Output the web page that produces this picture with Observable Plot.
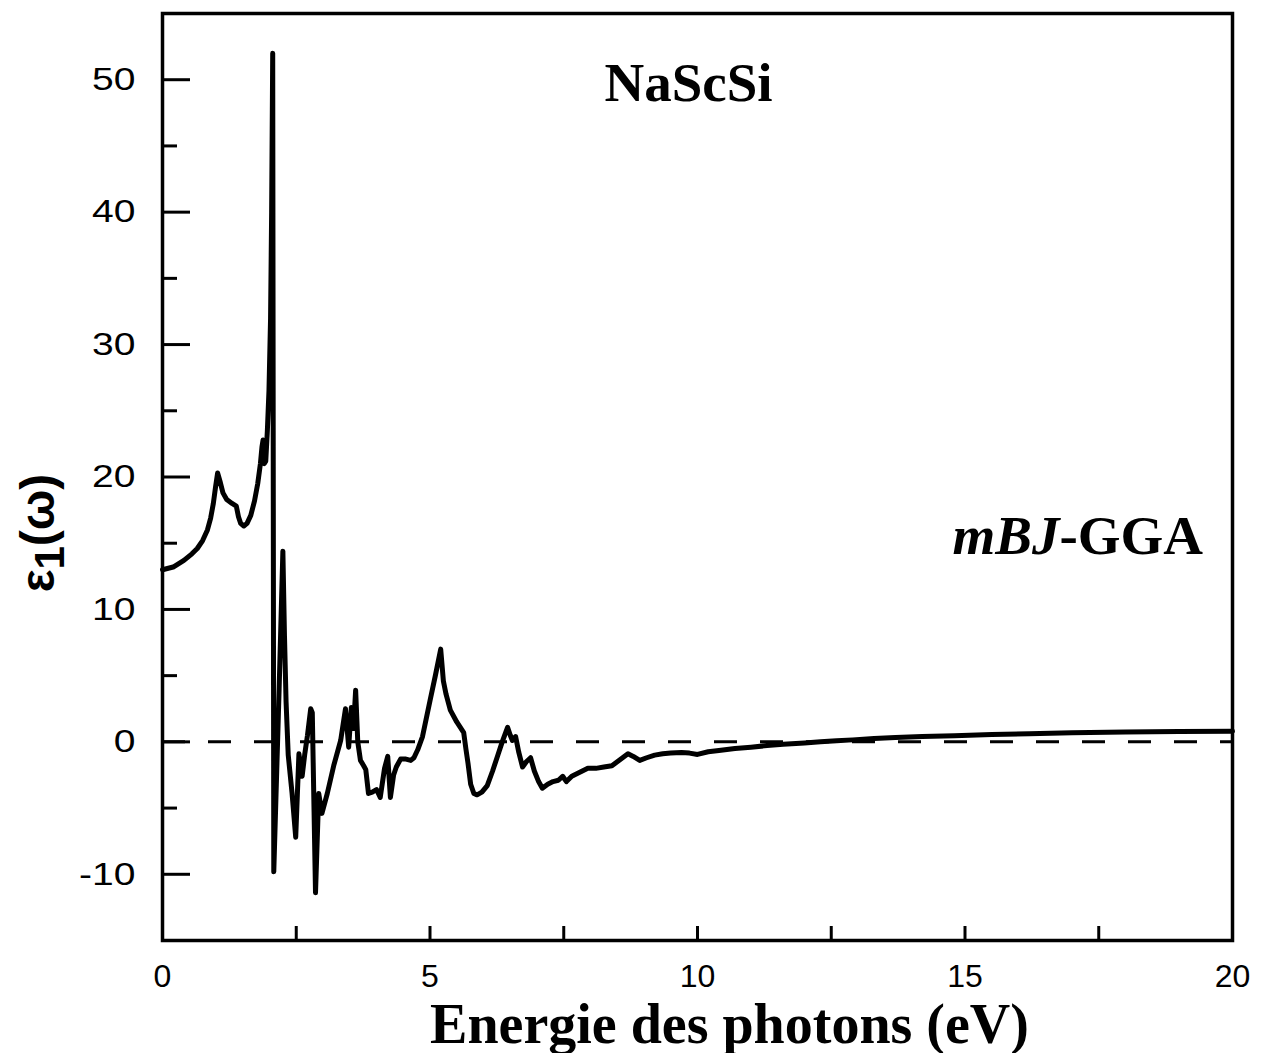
<!DOCTYPE html>
<html>
<head>
<meta charset="utf-8">
<script src="https://cdn.jsdelivr.net/npm/d3@7"></script>
<script src="https://cdn.jsdelivr.net/npm/@observablehq/plot@0.6"></script>
<style>
  html, body { margin: 0; padding: 0; background: #fff; }
  #chart svg { display: block; font-family: "Liberation Sans", Arial, sans-serif; }
</style>
</head>
<body>
<div id="chart"></div>
<script>
// Real part of the dielectric function of NaScSi (mBJ-GGA), epsilon_1 vs photon energy
const energy = [
  0.00, 0.20, 0.40, 0.55, 0.65, 0.75, 0.84, 0.90, 0.95, 0.99,
  1.03, 1.08, 1.13, 1.20, 1.30, 1.38, 1.42, 1.46, 1.52, 1.58,
  1.65, 1.72, 1.78, 1.83, 1.86, 1.88, 1.90, 1.93, 1.96, 1.99,
  2.02, 2.04, 2.06, 2.08, 2.18, 2.25, 2.28, 2.31, 2.35, 2.42,
  2.49, 2.55, 2.61, 2.66, 2.71, 2.77, 2.80, 2.86, 2.92, 2.98,
  3.08, 3.20, 3.33, 3.42, 3.48, 3.53, 3.57, 3.61, 3.65, 3.70,
  3.76, 3.80, 3.85, 3.92, 4.00, 4.07, 4.15, 4.21, 4.26, 4.32,
  4.37, 4.45, 4.55, 4.64, 4.70, 4.77, 4.86, 5.00, 5.10, 5.20,
  5.25, 5.30, 5.38, 5.50, 5.63, 5.67, 5.71, 5.76, 5.82, 5.88,
  5.97, 6.07, 6.17, 6.26, 6.35, 6.45, 6.50, 6.54, 6.60, 6.66,
  6.73, 6.80, 6.88, 6.95, 7.03, 7.10, 7.20, 7.30, 7.40, 7.48,
  7.55, 7.65, 7.80, 7.95, 8.10, 8.25, 8.40, 8.50, 8.60, 8.70,
  8.80, 8.92, 9.05, 9.20, 9.35, 9.50, 9.70, 9.85, 10.0, 10.2,
  10.4, 10.7, 11.0, 11.3, 11.6, 12.0, 12.3, 12.6, 12.9, 13.3,
  13.7, 14.2, 14.8, 15.5, 16.2, 17.0, 18.0, 19.0, 20.0
];
const eps1 = [
  13.0, 13.2, 13.7, 14.2, 14.6, 15.2, 16.0, 16.9, 18.0, 19.2,
  20.3, 19.6, 18.8, 18.3, 18.0, 17.8, 17.0, 16.5, 16.3, 16.5,
  17.1, 18.2, 19.5, 21.0, 22.3, 22.8, 21.0, 21.2, 23.5, 26.5,
  32.0, 40.0, 52.0, -9.8, 4.0, 14.4, 8.0, 3.0, -1.0, -3.8,
  -7.2, -0.9, -2.6, -0.9, 0.5, 2.5, 2.2, -11.4, -3.9, -5.4,
  -3.9, -1.8, 0.1, 2.5, -0.4, 2.6, 1.0, 3.9, 0.0, -1.4,
  -1.8, -2.1, -3.9, -3.8, -3.6, -4.2, -2.0, -1.1, -4.2, -2.5,
  -1.9, -1.3, -1.3, -1.4, -1.2, -0.6, 0.4, 3.1, 5.0, 7.0,
  4.6, 3.6, 2.4, 1.5, 0.7, -0.5, -1.6, -3.2, -3.9, -4.0,
  -3.8, -3.3, -2.2, -1.1, 0.0, 1.1, 0.5, 0.1, 0.4, -0.8,
  -1.9, -1.5, -1.2, -2.2, -3.0, -3.5, -3.2, -3.0, -2.9, -2.6,
  -3.0, -2.6, -2.3, -2.0, -2.0, -1.9, -1.8, -1.5, -1.2, -0.9,
  -1.1, -1.4, -1.2, -1.0, -0.9, -0.85, -0.8, -0.85, -0.95, -0.75,
  -0.65, -0.5, -0.4, -0.28, -0.18, -0.08, 0.0, 0.08, 0.15, 0.25,
  0.32, 0.4, 0.47, 0.55, 0.62, 0.68, 0.74, 0.78, 0.80
];

const xLabelTicks = [0, 5, 10, 15, 20];
const xMinorTicks = [2.5, 7.5, 12.5, 17.5];
const yLabelTicks = [-10, 0, 10, 20, 30, 40, 50];
const yMinorTicks = [-5, 5, 15, 25, 35, 45];

const compound = "NaScSi";
const xTitle = "Energie des photons (eV)";

const series = energy.map((e, i) => ({e, v: eps1[i]}));

const W = 1262, H = 1053;
const serif = "'Liberation Serif', 'Times New Roman', serif";
const plain = d => String(d);

const chart = Plot.plot({
  width: W,
  height: H,
  marginLeft: 162,
  marginRight: 30,
  marginTop: 13,
  marginBottom: 113,
  x: {domain: [0, 20]},
  y: {domain: [-15, 55]},
  marks: [
    Plot.ruleY([0], {stroke: "#000", strokeWidth: 3, strokeDasharray: "23,23"}),
    Plot.line(series, {x: "e", y: "v", stroke: "#000", strokeWidth: 5, strokeLinejoin: "round", strokeLinecap: "round"}),
    Plot.axisY(yLabelTicks, {tickSize: -28, tickPadding: 55, fontSize: 32, strokeWidth: 3, label: null, fill: "#000", tickFormat: plain}),
    Plot.axisY(yMinorTicks, {tickSize: -15, text: null, strokeWidth: 3, label: null}),
    Plot.axisX(xLabelTicks, {tickSize: -14, tickPadding: 38, fontSize: 32, strokeWidth: 3, label: null, fill: "#000", tickFormat: plain}),
    Plot.axisX(xMinorTicks, {tickSize: -14, text: null, strokeWidth: 3, label: null}),
    Plot.frame({stroke: "#000", strokeWidth: 3.5}),
    Plot.text([compound], {frameAnchor: "top", dx: -9, dy: 48, fontSize: 55, fontWeight: "bold", fontFamily: serif, fill: "#000"}),
    Plot.text([xTitle], {frameAnchor: "bottom", dx: 32, dy: 102, fontSize: 56, fontWeight: "bold", fontFamily: serif, fill: "#000"})
  ]
});

const svg = d3.select(chart);

// method label with italic functional name
const method = svg.append("text")
  .attr("x", 1203).attr("y", 554)
  .attr("text-anchor", "end")
  .attr("font-family", "Liberation Serif, Times New Roman, serif")
  .attr("font-weight", "bold")
  .attr("font-size", 55)
  .attr("fill", "#000");
method.append("tspan").attr("font-style", "italic").text("mBJ");
method.append("tspan").text("-GGA");

// y axis title: epsilon_1(omega)
const yTitle = svg.append("text")
  .attr("transform", "translate(54,533) rotate(-90)")
  .attr("text-anchor", "middle")
  .attr("font-family", "Liberation Sans, Arial, sans-serif")
  .attr("font-weight", "bold")
  .attr("font-size", 48)
  .attr("fill", "#000");
yTitle.append("tspan").text("ε");
yTitle.append("tspan").attr("dy", 10).attr("font-size", 42).text("1");
yTitle.append("tspan").attr("dy", -10).text("(ω)");

document.getElementById("chart").appendChild(chart);

// the y tick labels are set in a wider face: stretch them horizontally
svg.selectAll('g[aria-label="y-axis tick label"] text').each(function() {
  const len = this.getComputedTextLength();
  d3.select(this).attr("textLength", len * 1.22).attr("lengthAdjust", "spacingAndGlyphs");
});
</script>
</body>
</html>
